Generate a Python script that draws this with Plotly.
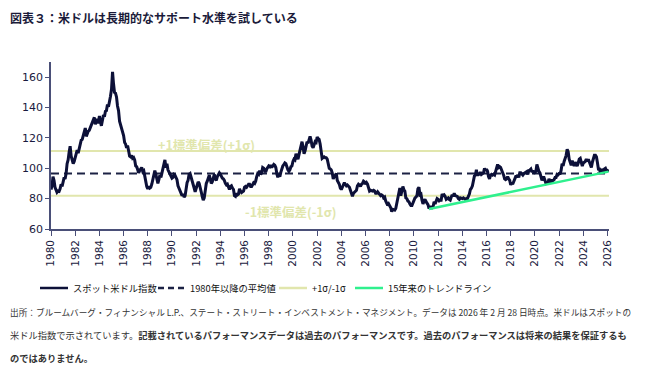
import pandas as pd
import plotly.graph_objects as go

# ---------------- data ----------------
usd_1980s = [
    86.0, 88.5, 94.5, 92.0, 87.5, 85.5, 84.2, 85.0, 84.8, 86.5, 89.5, 88.0,   # 1980
    91.5, 94.0, 93.0, 96.5, 103.0, 105.5, 110.5, 114.5, 108.0, 106.0, 103.0, 104.5,  # 1981
    107.0, 110.5, 112.0, 110.0, 113.5, 117.0, 118.5, 119.0, 121.5, 125.5, 126.5, 121.0,  # 1982
    123.5, 124.5, 125.0, 127.0, 128.5, 130.0, 131.5, 133.5, 129.0, 130.5, 132.5, 129.5,  # 1983
    134.5, 130.5, 128.0, 131.5, 135.0, 134.0, 137.5, 138.0, 142.0, 140.5, 143.5, 147.5,  # 1984
    152.0, 163.5, 156.0, 150.0, 149.5, 147.0, 141.0, 138.0, 131.0, 129.0, 127.0, 124.5,  # 1985
    121.5, 117.0, 116.0, 113.5, 115.0, 111.5, 108.0, 107.5, 108.5, 106.5, 107.0, 105.5,  # 1986
    101.5, 101.0, 99.5, 97.0, 98.5, 99.5, 100.5, 98.0, 98.5, 95.0, 90.5, 88.0,   # 1987
    86.5, 88.0, 87.0, 87.5, 89.5, 92.0, 96.0, 98.5, 96.0, 93.0, 90.0, 92.5,      # 1988
    95.5, 94.0, 97.0, 98.5, 103.5, 105.5, 100.5, 103.0, 99.0, 97.5, 96.5, 94.5,  # 1989
]
usd_1990s = [
    93.5, 94.0, 96.0, 95.5, 94.0, 92.5, 88.5, 87.0, 85.5, 83.0, 82.0, 83.0,      # 1990
    81.0, 82.0, 88.0, 90.5, 92.0, 96.0, 96.5, 94.5, 91.5, 90.0, 87.0, 84.5,      # 1991
    86.5, 89.5, 91.0, 90.0, 88.0, 84.5, 81.5, 79.0, 80.5, 86.0, 90.0, 91.5,      # 1992
    93.5, 95.5, 93.0, 90.0, 91.0, 93.5, 96.0, 93.0, 92.0, 94.5, 96.5, 97.0,      # 1993
    96.0, 94.0, 93.5, 93.0, 92.0, 90.0, 89.0, 89.5, 87.5, 86.0, 88.0, 88.5,      # 1994
    87.0, 86.0, 82.0, 81.5, 83.5, 82.5, 83.0, 86.5, 85.0, 84.0, 84.5, 85.0,      # 1995
    87.5, 88.0, 87.5, 89.0, 89.5, 89.5, 88.0, 88.0, 89.5, 90.5, 90.0, 91.5,      # 1996
    94.5, 96.5, 96.0, 98.5, 96.0, 97.0, 100.5, 100.0, 98.5, 97.5, 99.5, 100.5,   # 1997
    101.5, 101.0, 102.0, 100.5, 101.5, 102.5, 102.0, 100.5, 96.5, 94.0, 96.0, 94.5,  # 1998
    97.5, 100.0, 101.5, 102.5, 103.5, 103.0, 100.5, 99.0, 98.0, 99.0, 101.0, 101.5,  # 1999
]
usd_2000s = [
    104.5, 106.0, 105.5, 109.5, 108.0, 106.0, 109.0, 112.5, 115.5, 117.5, 114.0, 109.5,  # 2000
    111.5, 114.5, 117.5, 116.5, 119.5, 121.0, 118.5, 114.5, 113.5, 116.0, 117.5, 117.0,  # 2001
    120.5, 119.5, 119.0, 116.0, 111.5, 106.5, 107.0, 107.5, 107.0, 107.0, 106.0, 102.0,  # 2002
    100.0, 99.5, 99.0, 97.0, 93.0, 94.5, 96.0, 96.5, 92.0, 91.0, 89.5, 87.0,     # 2003
    86.0, 87.5, 88.5, 90.5, 89.5, 88.5, 89.0, 88.5, 87.5, 85.5, 83.5, 81.5,      # 2004
    83.5, 84.0, 84.5, 85.5, 88.5, 89.5, 89.0, 88.0, 89.5, 90.0, 91.5, 91.0,      # 2005
    89.5, 90.5, 89.5, 86.5, 85.0, 85.5, 85.0, 85.0, 85.5, 85.0, 83.5, 83.5,      # 2006
    84.5, 83.5, 82.5, 82.0, 82.5, 82.0, 80.5, 81.0, 78.5, 77.0, 75.5, 76.5,      # 2007
    75.5, 74.0, 71.5, 73.0, 72.8, 72.5, 73.5, 77.5, 79.0, 84.5, 87.0, 82.0,      # 2008
    85.5, 88.0, 86.0, 85.0, 80.5, 80.0, 78.5, 78.0, 76.5, 75.5, 75.5, 77.5,      # 2009
]
usd_2010s = [
    78.5, 80.5, 81.0, 82.0, 86.5, 87.5, 82.5, 83.0, 79.0, 76.5, 78.5, 79.5,      # 2010
    78.0, 77.0, 76.0, 73.5, 74.5, 74.5, 74.0, 74.5, 78.0, 76.5, 78.5, 80.0,      # 2011
    79.5, 78.5, 79.0, 79.0, 83.0, 82.0, 82.5, 81.5, 79.5, 80.0, 80.5, 79.5,      # 2012
    79.0, 81.0, 82.5, 81.5, 83.5, 82.0, 81.5, 81.5, 80.0, 79.5, 80.5, 80.0,      # 2013
    80.0, 80.5, 80.0, 79.5, 80.0, 79.8, 81.5, 83.0, 86.0, 86.8, 88.5, 91.0,      # 2014
    95.0, 95.5, 99.0, 95.0, 97.0, 95.5, 97.5, 96.0, 96.5, 97.0, 100.0, 98.5,     # 2015
    99.5, 98.0, 94.5, 93.0, 95.5, 96.0, 95.5, 96.0, 95.5, 98.5, 101.5, 102.5,    # 2016
    100.5, 101.0, 100.5, 99.0, 97.0, 95.5, 93.0, 92.5, 93.0, 94.5, 93.0, 92.0,   # 2017
    89.0, 90.5, 89.5, 91.5, 94.0, 94.5, 94.5, 95.5, 94.0, 97.0, 97.0, 96.2,      # 2018
    95.5, 96.5, 97.0, 97.5, 97.8, 96.0, 98.5, 98.8, 99.5, 97.5, 98.5, 96.5,      # 2019
]
usd_2020s = [
    97.5, 98.0, 102.5, 99.0, 98.0, 97.0, 93.5, 92.0, 94.0, 94.0, 92.0, 90.0,     # 2020
    90.5, 90.5, 93.0, 91.0, 90.0, 92.0, 92.0, 92.5, 94.0, 94.0, 96.0, 95.7,      # 2021
    96.5, 96.5, 98.5, 103.0, 101.5, 104.5, 106.0, 108.5, 112.5, 111.0, 106.0, 103.5,  # 2022
    102.0, 105.0, 102.5, 101.5, 104.0, 102.5, 101.5, 103.5, 106.0, 106.5, 103.5, 101.5,  # 2023
    103.5, 104.0, 104.5, 106.0, 104.5, 106.0, 104.0, 101.5, 100.5, 104.0, 106.0, 108.5,  # 2024
    108.5, 107.5, 104.0, 99.5, 99.5, 97.0, 99.5, 98.0, 97.5, 99.5, 100.0, 98.5,  # 2025
    98.5, 97.8,                                                                 # 2026
]
usd_values = usd_1980s + usd_1990s + usd_2000s + usd_2010s + usd_2020s
usd_dates = pd.date_range("1980-01-01", periods=len(usd_values), freq="MS")

mean_value = 96.6
plus_sigma = 111.4
minus_sigma = 81.9
x_start = "1980-01-01"
x_end = "2026-02-15"

trend_dates = ["2011-04-01", "2026-02-01"]
trend_values = [73.2, 97.8]

year_ticks = list(range(1980, 2027, 2))

legend_labels = ["スポット米ドル指数", "1980年以降の平均値", "+1σ/-1σ", "15年来のトレンドライン"]

NAVY = "#0c1038"
DASH_NAVY = "#1c2244"
PALE = "#e1e6ad"
GREEN = "#2ff08e"
FONT = "Noto Sans CJK JP"

# page is drawn with an 8px body margin; lay out in figure coordinates
PAGE_OFF = 8
FIG_W, FIG_H = 651 - PAGE_OFF, 375 - PAGE_OFF
PLOT_L, PLOT_T, PLOT_W, PLOT_H = 51 - PAGE_OFF, 62 - PAGE_OFF, 558, 167
PLOT_B = PLOT_T + PLOT_H


def px_x(page_x):
    return (page_x - PAGE_OFF - PLOT_L) / PLOT_W


def px_y(page_y):
    return (PLOT_B - (page_y - PAGE_OFF)) / PLOT_H


fig = go.Figure()
fig.add_trace(go.Scatter(
    x=[x_start, x_end], y=[mean_value, mean_value], mode="lines",
    name=legend_labels[1], line=dict(color=DASH_NAVY, width=2, dash="8px,5px")))
fig.add_trace(go.Scatter(
    x=[x_start, x_end, None, x_start, x_end],
    y=[plus_sigma, plus_sigma, None, minus_sigma, minus_sigma],
    mode="lines", name=legend_labels[2], line=dict(color=PALE, width=2)))
fig.add_trace(go.Scatter(
    x=usd_dates, y=usd_values, mode="lines", name=legend_labels[0],
    line=dict(color=NAVY, width=3)))
fig.add_trace(go.Scatter(
    x=trend_dates, y=trend_values, mode="lines", name=legend_labels[3],
    line=dict(color=GREEN, width=2.5)))

fig.update_layout(
    width=FIG_W, height=FIG_H,
    margin=dict(l=PLOT_L, r=FIG_W - PLOT_L - PLOT_W, t=PLOT_T, b=FIG_H - PLOT_B),
    paper_bgcolor="white", plot_bgcolor="white",
    font=dict(family=FONT, color="#1b1b3a"),
    showlegend=False,
    xaxis=dict(type="date", range=[x_start, x_end], automargin=False,
               tickvals=[f"{y}-01-01" for y in year_ticks],
               ticktext=[str(y) for y in year_ticks],
               tickangle=-90, ticks="outside", ticklen=5, tickcolor="#4a4f78",
               showline=True, linecolor="#4a4f78", linewidth=1.5,
               showgrid=False, zeroline=False,
               tickfont=dict(family="DejaVu Sans", size=10.5, color="#1a1a40")),
    yaxis=dict(range=[60, 170], tickvals=[60, 80, 100, 120, 140, 160], automargin=False,
               ticks="outside", ticklen=4, tickcolor="#4a4f78",
               showline=True, linecolor="#4a4f78", linewidth=1.5,
               showgrid=False, zeroline=False,
               tickfont=dict(family="DejaVu Sans", size=11, color="#1a1a40")),
)

# ---- legend (drawn below the chart) ----
legend_y = px_y(288)
legend_items = [
    (40, 68, 71, NAVY, 2.5, "solid"),
    (158, 185, 188, DASH_NAVY, 2.5, "6px,4px"),
    (279, 307, 310, PALE, 2.5, "solid"),
    (355, 383, 386, GREEN, 2.5, "solid"),
]
for (x0, x1, tx, color, width, dash), label in zip(legend_items, legend_labels):
    fig.add_shape(type="line", xref="paper", yref="paper",
                  x0=px_x(x0), x1=px_x(x1), y0=legend_y, y1=legend_y,
                  line=dict(color=color, width=width, dash=dash))
    fig.add_annotation(text=label, xref="paper", yref="paper",
                       x=px_x(tx), y=legend_y, xanchor="left", yanchor="middle",
                       showarrow=False, font=dict(size=9.3, family=FONT, color="#111"))

fig.add_annotation(text="<b>図表３：米ドルは長期的なサポート水準を試している</b>",
                   xref="paper", yref="paper", x=px_x(8), y=px_y(17),
                   xanchor="left", yanchor="middle", showarrow=False,
                   font=dict(size=12, family=FONT, color="#1b1b3a"))
fig.add_annotation(text="<b>+1標準偏差(+1σ)</b>", x="1992-11-01", y=115.8,
                   showarrow=False, font=dict(size=12.5, family=FONT, color=PALE))
fig.add_annotation(text="<b>-1標準偏差(-1σ)</b>", x="1999-11-01", y=71.3,
                   showarrow=False, font=dict(size=12.5, family=FONT, color=PALE))

notes = [
    "出所：ブルームバーグ・フィナンシャル L.P.、ステート・ストリート・インベストメント・マネジメント。データは 2026 年 2 月 28 日時点。米ドルはスポットの",
    "米ドル指数で示されています。<b>記載されているパフォーマンスデータは過去のパフォーマンスです。過去のパフォーマンスは将来の結果を保証するも</b>",
    "<b>のではありません。</b>",
]
note_sizes = [8.65, 9.25, 9.25]
for i, line in enumerate(notes):
    fig.add_annotation(text=line, xref="paper", yref="paper",
                       x=px_x(8), y=px_y(312 + 23 * i),
                       xanchor="left", yanchor="middle", showarrow=False,
                       font=dict(size=note_sizes[i], family=FONT, color="#333"))

fig.write_html("out.html")
